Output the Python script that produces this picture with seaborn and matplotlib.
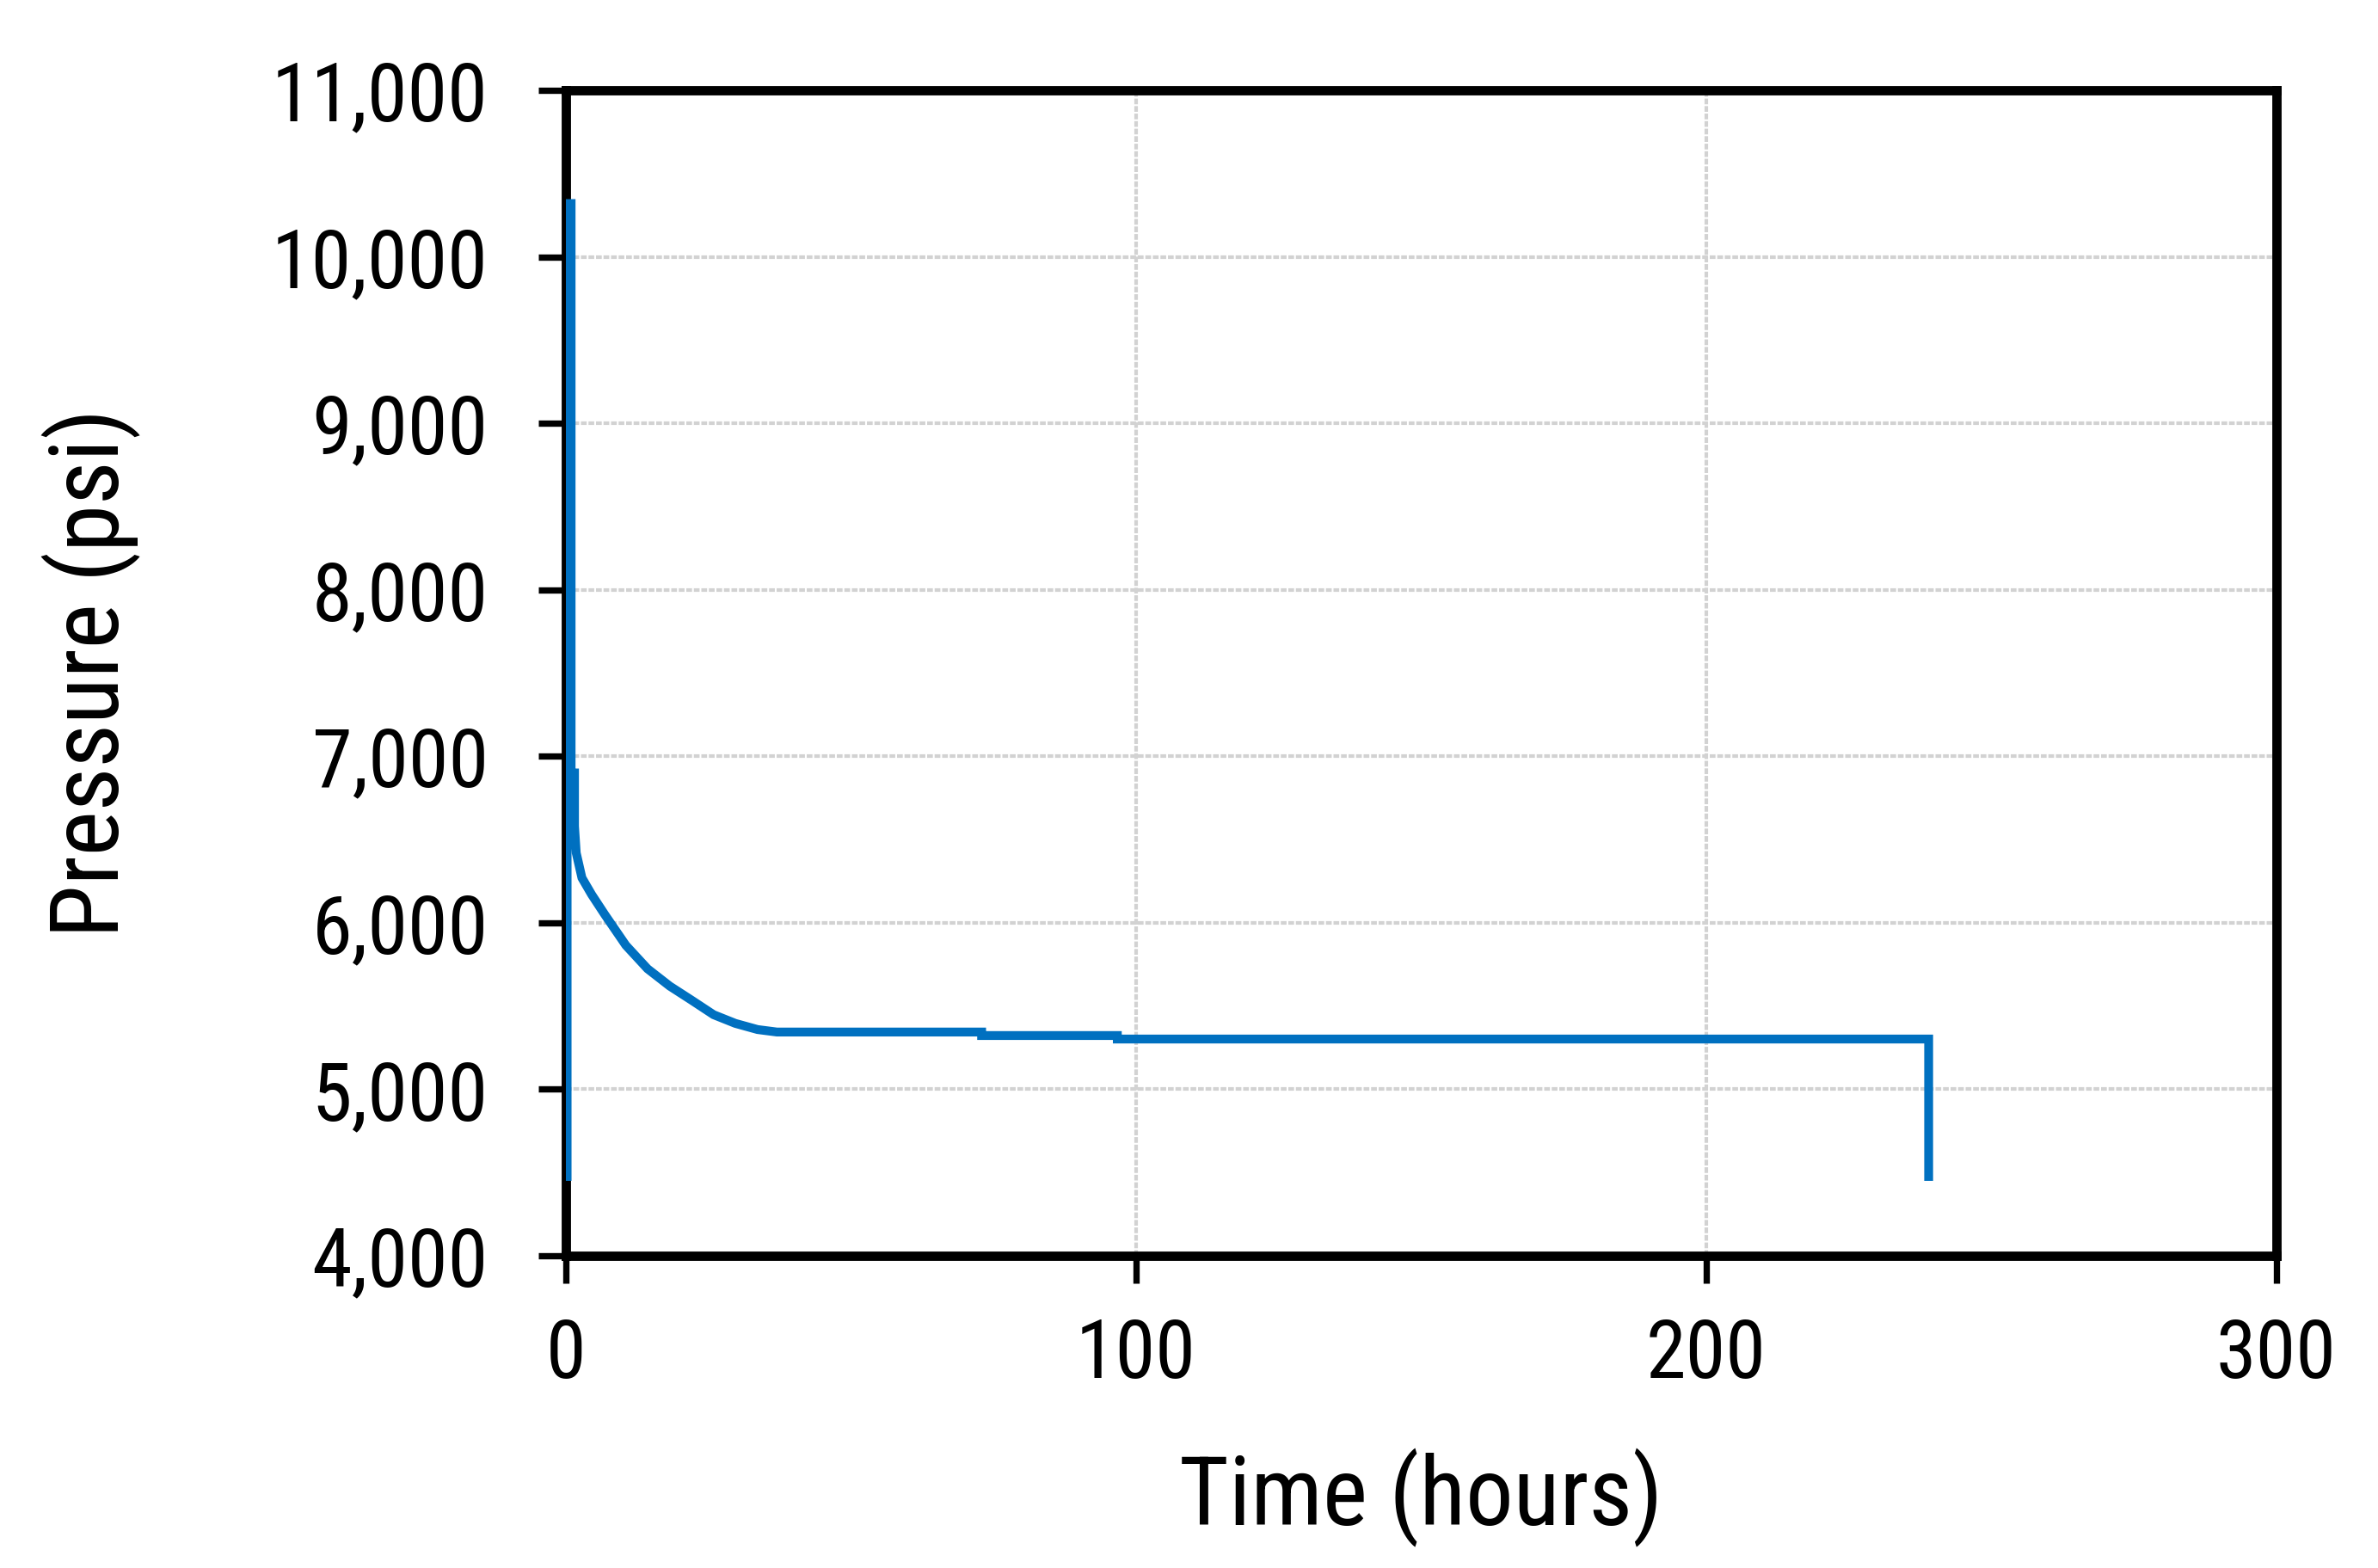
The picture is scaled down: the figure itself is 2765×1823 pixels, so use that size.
import matplotlib
matplotlib.use("Agg")
import matplotlib.pyplot as plt
from matplotlib import font_manager
from matplotlib.ticker import FuncFormatter
import seaborn as sns
import pandas as pd

# ---- data ----
time_hours = [0.2, 0.2, 0.9, 0.9, 1.5, 1.5, 1.8, 2.8, 4.5, 6.8, 10.5, 14.3,
              18.2, 22.0, 25.9, 29.7, 33.6, 37.0, 72.9, 72.9, 96.7, 96.7,
              239.0, 239.0]
pressure_psi = [4450, 10320, 10320, 6900, 6900, 6580, 6420, 6270, 6170, 6050,
                5865, 5724, 5620, 5536, 5448, 5396, 5359, 5344, 5344, 5323,
                5323, 5302, 5302, 4450]
x_ticks = [0, 100, 200, 300]
y_ticks = [4000, 5000, 6000, 7000, 8000, 9000, 10000, 11000]
x_label = "Time (hours)"
y_label = "Pressure (psi)"

df = pd.DataFrame({"Time": time_hours, "Pressure": pressure_psi})

sns.set_style("white")
avail = {f.name for f in font_manager.fontManager.ttflist}
narrow = [f for f in ["Liberation Sans Narrow", "Arial Narrow", "Roboto Condensed"] if f in avail]
fam = narrow + [f for f in ["Liberation Sans", "DejaVu Sans"] if f in avail]
plt.rcParams["font.family"] = fam
scale = 1.0 if narrow else 0.87

fig = plt.figure(figsize=(27.65, 18.23), dpi=100)
ax = fig.add_axes([0.2380, 0.1991, 0.9573 - 0.2380, 0.9424 - 0.1991])

sns.lineplot(data=df, x="Time", y="Pressure", sort=False, estimator=None,
             color="#0070C0", linewidth=7.4, ax=ax)
for ln in ax.lines:
    ln.set_linewidth(7.4)
    ln.set_color("#0070C0")
    ln.set_zorder(3)
    ln.set_solid_capstyle("butt")
    ln.set_solid_joinstyle("miter")

ax.set_xlim(0, 300)
ax.set_ylim(4000, 11000)
ax.set_xticks(x_ticks)
ax.set_yticks(y_ticks)
ax.yaxis.set_major_formatter(FuncFormatter(lambda v, p: f"{int(v):,}"))

ax.set_axisbelow(True)
ax.grid(True, color="#d2d2d2", linewidth=3.0, linestyle=(0, (1.6, 0.5)))

for s in ax.spines.values():
    s.set_visible(True)
    s.set_color("black")
    s.set_linewidth(7.8)
    s.set_zorder(2.5)

ax.tick_params(axis="both", which="major", direction="out", length=23,
               width=5.3, color="black", labelsize=68 * scale, labelcolor="black")
ax.tick_params(axis="y", pad=42, left=True)
ax.tick_params(axis="x", pad=28, bottom=True)

ax.set_xlabel(x_label, fontsize=80 * scale, color="black")
ax.set_ylabel(y_label, fontsize=80 * scale, color="black")
ax.xaxis.label.set_va("baseline")
ax.xaxis.set_label_coords(0.5, -0.231)
ax.yaxis.label.set_ha("center")
ax.yaxis.label.set_va("center")
ax.yaxis.set_label_coords(-0.2775, 0.5)

fig.savefig("out.png", dpi=100, facecolor="white")
